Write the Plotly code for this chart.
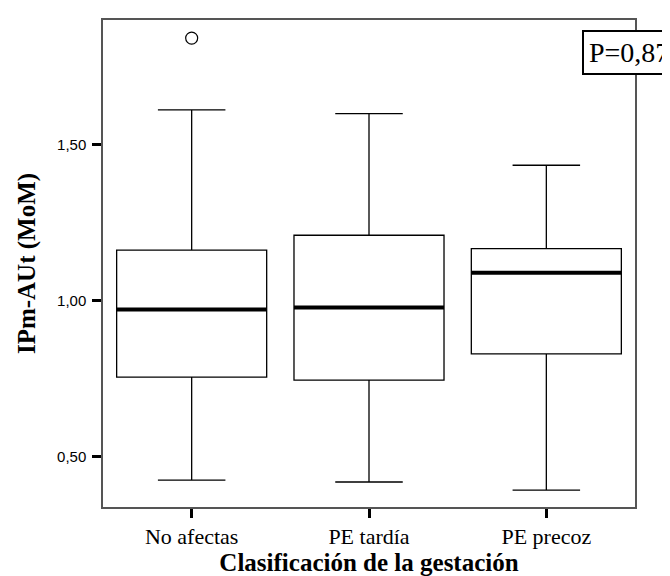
import plotly.graph_objects as go

categories = ["No afectas", "PE tardía", "PE precoz"]
lower_whisker = [0.425, 0.419, 0.393]
q1_values = [0.755, 0.745, 0.829]
median_values = [0.971, 0.978, 1.089]
q3_values = [1.161, 1.209, 1.166]
upper_whisker = [1.610, 1.598, 1.433]
outlier_category = [0]
outlier_values = [1.840]
p_text = "P=0,87"

positions = list(range(len(categories)))
box_width = 0.846

fig = go.Figure()
fig.add_trace(go.Box(
    x=positions,
    q1=q1_values,
    median=median_values,
    q3=q3_values,
    lowerfence=lower_whisker,
    upperfence=upper_whisker,
    width=box_width,
    whiskerwidth=0.45,
    fillcolor="white",
    line=dict(color="black", width=1.3),
    boxpoints=False,
    showlegend=False,
    hoverinfo="skip",
))

# thick median lines
mx, my = [], []
for p, m in zip(positions, median_values):
    mx += [p - box_width / 2, p + box_width / 2, None]
    my += [m, m, None]
fig.add_trace(go.Scatter(x=mx, y=my, mode="lines",
                         line=dict(color="black", width=4),
                         showlegend=False, hoverinfo="skip"))

fig.add_trace(go.Scatter(
    x=outlier_category, y=outlier_values, mode="markers",
    marker=dict(symbol="circle-open", size=12, color="black", line=dict(width=1.2)),
    showlegend=False, hoverinfo="skip"))

fig.update_layout(
    width=670, height=576,
    margin=dict(l=95, r=43, t=12, b=77),
    paper_bgcolor="white", plot_bgcolor="white",
    separators=",.",
    xaxis=dict(
        range=[-0.5, 2.5], automargin=False,
        tickmode="array", tickvals=positions, ticktext=categories,
        ticks="outside", ticklen=9, tickwidth=3, tickcolor="black",
        showgrid=False, zeroline=False,
        showline=True, linecolor="#555555", linewidth=1.5, mirror=True,
        tickfont=dict(family="Liberation Serif", size=22, color="black"),
        title=dict(text="<b>Clasificación de la gestación</b>",
                   font=dict(family="Liberation Serif", size=25, color="black"),
                   standoff=3),
    ),
    yaxis=dict(
        range=[0.339, 1.898], automargin=False,
        tickmode="array", tickvals=[0.5, 1.0, 1.5], tickformat=".2f",
        ticks="outside", ticklen=9, tickwidth=3, tickcolor="black",
        ticklabelstandoff=3,
        showgrid=False, zeroline=False,
        showline=True, linecolor="#555555", linewidth=1.5, mirror=True,
        tickfont=dict(family="Liberation Sans", size=15, color="black"),
        title=dict(text="<b>IPm-AUt (MoM)</b>",
                   font=dict(family="Liberation Serif", size=25, color="black"),
                   standoff=14),
    ),
    annotations=[dict(
        text=p_text, xref="paper", yref="paper",
        x=(574 - 95) / 532, y=(499 - 22) / 487,
        xanchor="left", yanchor="top", showarrow=False,
        font=dict(family="Liberation Serif", size=28, color="black"),
        bgcolor="white", bordercolor="black", borderwidth=2, borderpad=5,
        align="left",
    )],
)

fig.write_html("out.html")
